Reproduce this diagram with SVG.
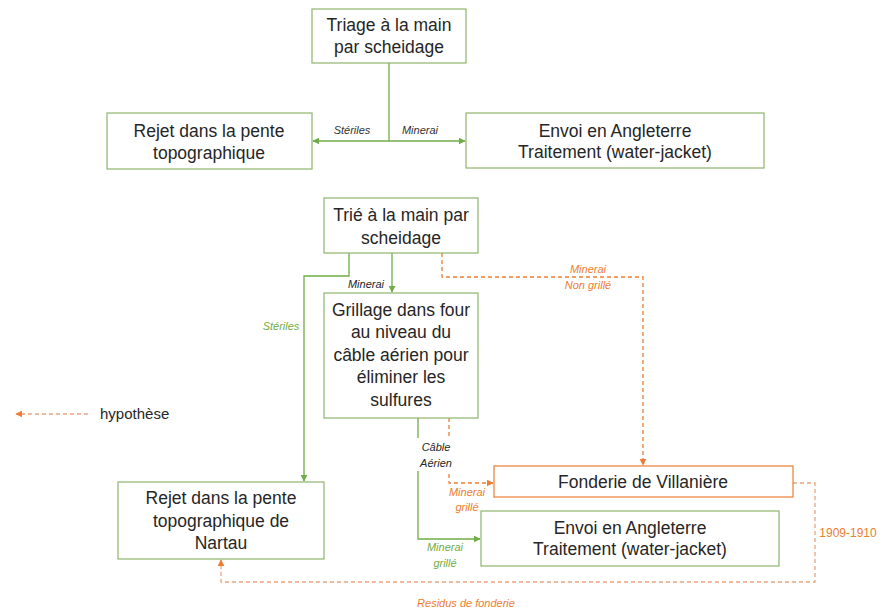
<svg xmlns="http://www.w3.org/2000/svg" width="883" height="612" viewBox="0 0 883 612">
<style>
.box{fill:#fff;stroke:#8DB56A;stroke-width:1.2}
.obox{fill:#fff;stroke:#ED7D31;stroke-width:1.2}
.t{font-family:"Liberation Sans",Arial,sans-serif;font-size:17.5px;fill:#262626;text-anchor:middle}
.lbl{font-family:"Liberation Sans",Arial,sans-serif;font-size:11px;font-style:italic;text-anchor:middle}
.g{stroke:#70AD47;stroke-width:1.3;fill:none}
.o{stroke:#ED7D31;stroke-width:1.3;fill:none;stroke-dasharray:4 3}
.ol{stroke:#E8A47E;stroke-width:1.3;fill:none;stroke-dasharray:4 3}
</style>
<defs>
<marker id="ag" viewBox="0 0 10 10" refX="9" refY="5" markerWidth="7" markerHeight="7" orient="auto" markerUnits="userSpaceOnUse"><path d="M0,0 L10,5 L0,10 z" fill="#70AD47"/></marker>
<marker id="ao" viewBox="0 0 10 10" refX="9" refY="5" markerWidth="7" markerHeight="7" orient="auto" markerUnits="userSpaceOnUse"><path d="M0,0 L10,5 L0,10 z" fill="#ED7D31"/></marker>
</defs>

<g id="connectors">
<path class="g" d="M389,63 V141"/>
<path class="g" d="M389,141 H313" marker-end="url(#ag)"/>
<path class="g" d="M389,141 H465" marker-end="url(#ag)"/>
<path class="g" d="M392,253 V292" marker-end="url(#ag)"/>
<path class="g" d="M349,253 V276 H304 V481" marker-end="url(#ag)"/>
<path class="g" d="M418,418 V539 H480" marker-end="url(#ag)"/>
<path class="o" d="M442,253 V277 H643 V465" marker-end="url(#ao)"/>
<path class="o" d="M449,418 V483 H493" marker-end="url(#ao)"/>
<path class="ol" d="M793,483 H815 V582 H221 V560" marker-end="url(#ao)"/>
<path class="ol" d="M88,414 H16" marker-end="url(#ao)"/>
<rect x="414" y="438" width="42" height="33" fill="#fff"/>
<text class="lbl" x="352" y="134" fill="#333">Stériles</text>
<text class="lbl" x="420" y="134" fill="#333">Minerai</text>
<text class="lbl" x="366" y="288" fill="#262626">Minerai</text>
<text class="lbl" x="281" y="330" fill="#70AD47">Stériles</text>
<text class="lbl" x="588" y="273" fill="#ED7D31">Minerai</text>
<text class="lbl" x="588" y="289" fill="#ED7D31">Non grillé</text>
<text class="lbl" x="436" y="451" fill="#262626">Câble</text>
<text class="lbl" x="436" y="467" fill="#262626">Aérien</text>
<text class="lbl" x="467" y="496" fill="#ED7D31">Minerai</text>
<text class="lbl" x="467" y="511" fill="#ED7D31">grillé</text>
<text class="lbl" x="445" y="551" fill="#70AD47">Minerai</text>
<text class="lbl" x="445" y="567" fill="#70AD47">grillé</text>
<text x="848" y="537" font-family="Liberation Sans,Arial,sans-serif" font-size="12" fill="#ED7D31" text-anchor="middle">1909-1910</text>
<text class="lbl" x="466" y="607" fill="#ED7D31">Residus de fonderie</text>
<text x="100" y="419" font-family="Liberation Sans,Arial,sans-serif" font-size="15" fill="#262626">hypothèse</text>
</g>

<g id="n1"><rect class="box" x="312" y="9" width="154" height="54"/>
<text class="t" x="389" y="31">Triage à la main</text><text class="t" x="389" y="53">par scheidage</text></g>

<g id="n2"><rect class="box" x="107" y="113" width="205" height="56"/>
<text class="t" x="209" y="137">Rejet dans la pente</text><text class="t" x="209" y="159">topographique</text></g>

<g id="n3"><rect class="box" x="466" y="113" width="298" height="55"/>
<text class="t" x="615" y="137">Envoi en Angleterre</text><text class="t" x="615" y="158">Traitement (water-jacket)</text></g>

<g id="n4"><rect class="box" x="324" y="198" width="154" height="55"/>
<text class="t" x="401" y="221">Trié à la main par</text><text class="t" x="401" y="244">scheidage</text></g>

<g id="n5"><rect class="box" x="324" y="293" width="154" height="125"/>
<text class="t" x="401" y="316">Grillage dans four</text>
<text class="t" x="401" y="338">au niveau du</text>
<text class="t" x="401" y="361">câble aérien pour</text>
<text class="t" x="401" y="383">éliminer les</text>
<text class="t" x="401" y="406">sulfures</text></g>

<g id="n6"><rect class="box" x="118" y="482" width="206" height="77"/>
<text class="t" x="221" y="504">Rejet dans la pente</text>
<text class="t" x="221" y="527">topographique de</text>
<text class="t" x="221" y="549">Nartau</text></g>

<g id="n7"><rect class="obox" x="494" y="466" width="299" height="31"/>
<text class="t" x="643" y="488">Fonderie de Villanière</text></g>

<g id="n8"><rect class="box" x="481" y="511" width="298" height="55"/>
<text class="t" x="630" y="534">Envoi en Angleterre</text><text class="t" x="630" y="555">Traitement (water-jacket)</text></g>
</svg>
